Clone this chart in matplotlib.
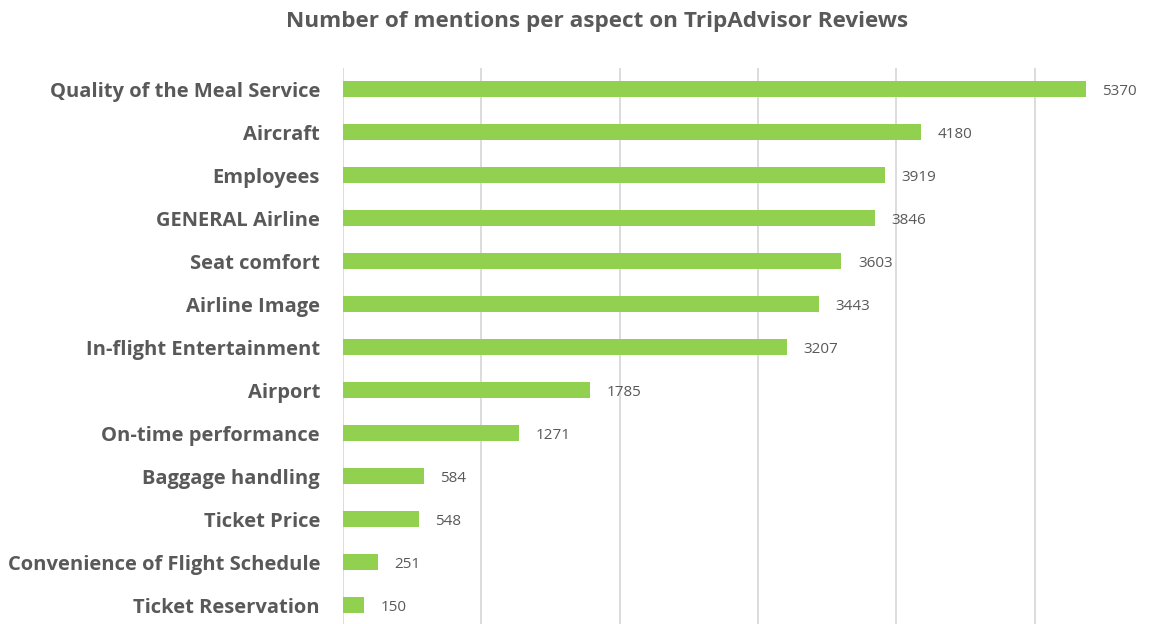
import matplotlib
matplotlib.use("Agg")
import matplotlib.pyplot as plt

categories = ["Quality of the Meal Service", "Aircraft", "Employees", "GENERAL Airline",
              "Seat comfort", "Airline Image", "In-flight Entertainment", "Airport",
              "On-time performance", "Baggage handling", "Ticket Price",
              "Convenience of Flight Schedule", "Ticket Reservation"]
values = [5370, 4180, 3919, 3846, 3603, 3443, 3207, 1785, 1271, 584, 548, 251, 150]
title = "Number of mentions per aspect on TripAdvisor Reviews"

plt.rcParams['font.family'] = ['Open Sans', 'DejaVu Sans']
TXT = "#595959"

fig = plt.figure(figsize=(11.68, 6.24), dpi=100)
W, H = 1168, 624
left, right = 343 / W, 1.0
top = 1 - 67.5 / H
bottom = 1 - 626.5 / H
ax = fig.add_axes([left, bottom, right - left, top - bottom])

y = list(range(len(categories)))
ax.barh(y, values, height=0.37, color="#92D050", zorder=3)
ax.set_ylim(len(categories) - 0.5, -0.5)
ax.set_xlim(0, (W - 343) / 138.3 * 1000)
ax.set_xticks([0, 1000, 2000, 3000, 4000, 5000])
ax.xaxis.grid(True, color="#D9D9D9", linewidth=1.3, zorder=0)
ax.tick_params(axis='x', length=0, labelbottom=False)
ax.tick_params(axis='y', length=0, pad=16.5)
ax.set_yticks(y)
ax.set_yticklabels(categories, fontsize=14.5, fontweight='bold', color=TXT)
for s in ax.spines.values():
    s.set_visible(False)

for yi, v in zip(y, values):
    ax.annotate(str(v), (v, yi), xytext=(12, -1.5), textcoords='offset points',
                va='center', ha='left', fontsize=11, color=TXT)

fig.text((290 + 905) / 2 / W, 1 - 21 / H, title, ha='center', va='center',
         fontsize=16.2, fontweight='bold', color=TXT)

fig.savefig("out.png", dpi=100)
